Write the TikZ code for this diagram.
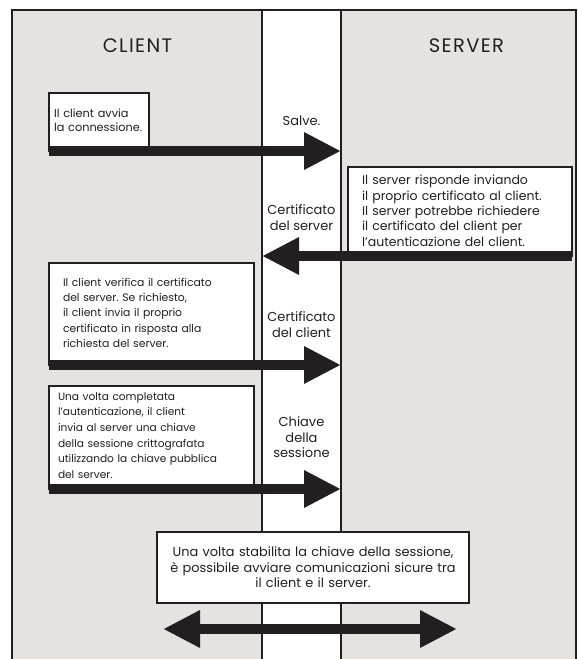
\documentclass[tikz,border=0pt]{standalone}
\usepackage{fontspec}
\setmainfont{Poppins}
\usepackage{tikz}
\usetikzlibrary{arrows.meta}
\frenchspacing

\definecolor{panelgrey}{HTML}{E6E2DF}
\definecolor{ink}{HTML}{231F20}

\tikzset{
  lane/.style={line width=2pt,draw=ink},
  note/.style={draw=ink,line width=2pt,fill=white,anchor=north west,outer sep=0pt,
    align=left,inner ysep=0pt,text=ink},
  msg/.style={draw=ink,line width=10pt,-{Triangle[length=37pt,width=35pt]}},
  phase/.style={text=ink,align=center,font=\fontsize{13}{15.5}\selectfont},
  side/.style={text=ink,font=\fontsize{19.5}{22}\selectfont\addfontfeatures{LetterSpace=7}},
}

\begin{document}
\begin{tikzpicture}[x=1pt,y=-1pt]
  \useasboundingbox (0,0) rectangle (578,659);
  \fill[panelgrey] (12,10) rectangle (576,659);
  \fill[white] (262,10) rectangle (341,659);
  \draw[lane] (12,659) -- (12,10) -- (576,10) -- (576,659);
  \coordinate (col left) at (262,10);
  \coordinate (col right) at (341,10);
  \foreach \edge in {col left, col right}{
    \draw[lane] (\edge) -- (\edge |- 0,659);
  }

  \node[side] (client) at (137.5,45.7) {CLIENT};
  \node[side] (server) at (466.5,45.7) {SERVER};

  \node[note,font=\fontsize{11.3}{14}\selectfont,text width=90pt,inner xsep=5pt,
    text height=24.5pt,text depth=33.5pt]
    (hello) at (49,93) {Il client avvia\\\mbox{la connessione.}};
  \node[note,font=\fontsize{12.5}{15.4}\selectfont,text width=196pt,inner xsep=14pt,
    text height=17.75pt,text depth=71.25pt]
    (reply) at (348,167) {Il server risponde inviando\\il proprio certificato al client.\\Il server potrebbe richiedere\\il certificato del client per\\l'autenticazione del client.};
  \node[note,font=\fontsize{10.8}{15.3}\selectfont,text width=177pt,inner xsep=14pt,
    text height=23.2pt,text depth=78.8pt]
    (verify) at (49,263) {Il client verifica il certificato\\del server. Se richiesto,\\il client invia il proprio\\certificato in risposta alla\\richiesta del server.};
  \node[note,font=\fontsize{10.6}{15.6}\selectfont,text width=187pt,inner xsep=9pt,
    text height=14.2pt,text depth=88.8pt]
    (keyx) at (49,386) {Una volta completata\\l'autenticazione, il client\\invia al server una chiave\\della sessione crittografata\\utilizzando la chiave pubblica\\del server.};
  \node[note,font=\fontsize{12.9}{15.5}\selectfont,align=center,text width=292pt,
    inner xsep=10pt,minimum height=71pt]
    (secure) at (157,532) {Una volta stabilita la chiave della sessione,\\è possibile avviare comunicazioni sicure tra\\il client e il server.};

  \node[phase] (hello label) at (301.5,121) {Salve.};
  \node[phase] (cert server) at (301.5,217.5) {Certificato\\del server};
  \node[phase] (cert client) at (301.5,324.5) {Certificato\\del client};
  \node[phase] (session key) at (301.5,437.5) {Chiave\\della\\sessione};

  \draw[msg] (hello.south west) -- (hello.south west -| col right);
  \draw[msg] (reply.south east) -- (reply.south east -| col left);
  \draw[msg] (verify.south west) -- (verify.south west -| col right);
  \draw[msg] (keyx.south west) -- (keyx.south west -| col right);
  \coordinate (secure left) at (163,629);
  \coordinate (secure right) at (457,629);
  \draw[msg,{Triangle[length=37pt,width=35pt]}-{Triangle[length=37pt,width=35pt]}]
    (secure left) -- (secure right);
\end{tikzpicture}
\end{document}
